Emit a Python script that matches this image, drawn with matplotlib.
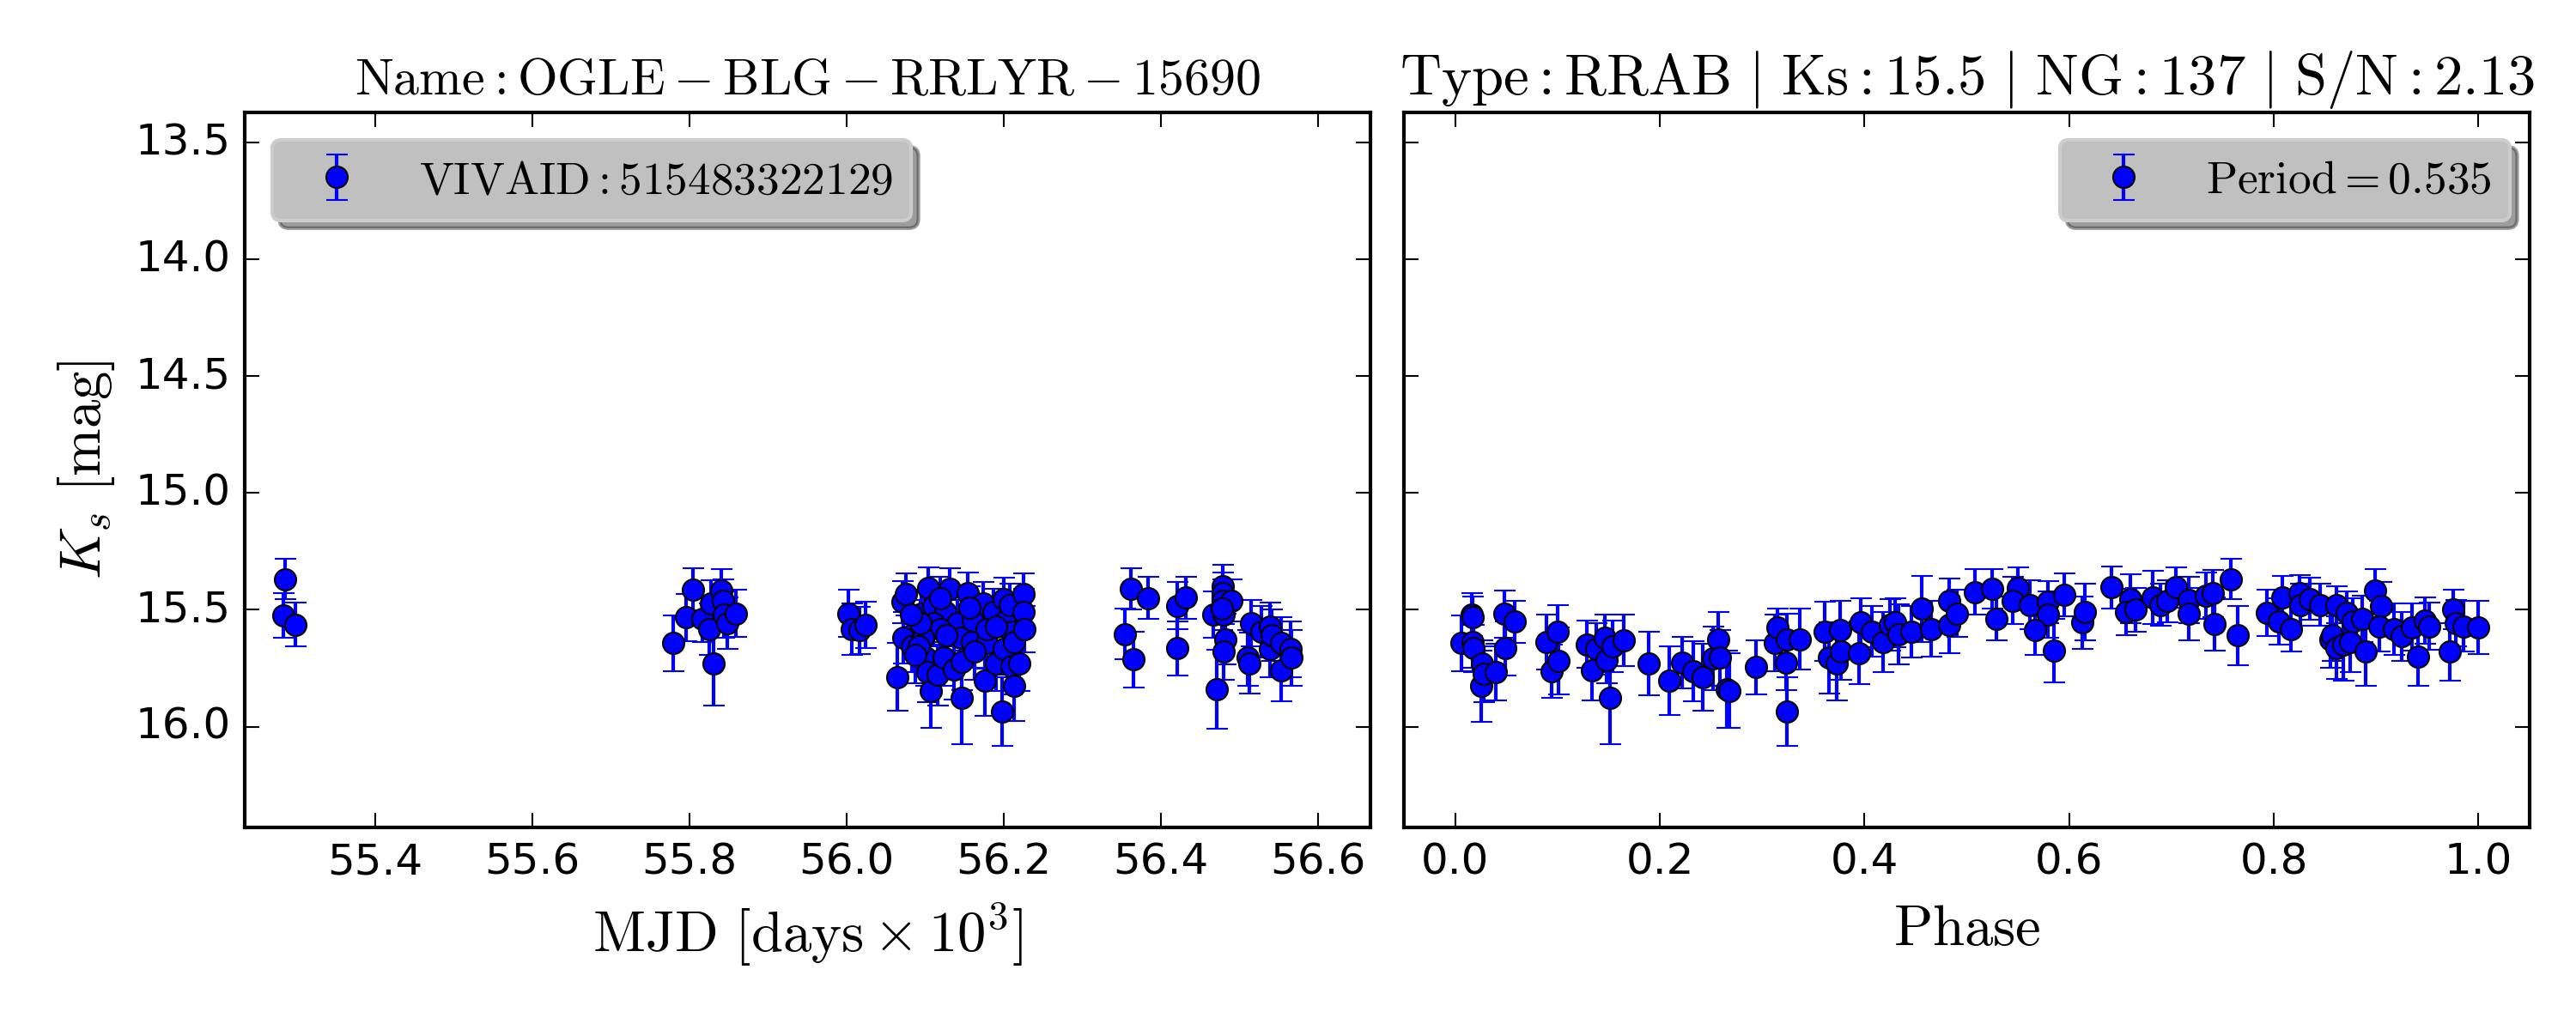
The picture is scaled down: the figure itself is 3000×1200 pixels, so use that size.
import matplotlib
matplotlib.use('Agg')
import matplotlib.pyplot as plt

# light curve, observed (MJD in units of 10^3 days)
mjd = [55.2856, 55.283, 55.2987,
       55.780, 55.796, 55.805, 55.817, 55.825, 55.831, 55.828, 55.841, 55.843, 55.844, 55.848, 55.859,
       56.003, 56.007, 56.017, 56.024,
       56.065, 56.072, 56.071, 56.076, 56.083, 56.095, 56.104, 56.105, 56.101, 56.103,
       56.107, 56.116, 56.111, 56.124, 56.126, 56.132, 56.137, 56.141, 56.147, 56.147,
       56.146, 56.155, 56.160, 56.161, 56.174, 56.176, 56.179, 56.187, 56.191, 56.200,
       56.200, 56.201, 56.198, 56.208, 56.210, 56.210, 56.214, 56.214, 56.220, 56.225,
       56.225, 56.227, 56.111, 56.119, 56.127, 56.098, 56.092, 56.088, 56.163, 56.178,
       56.190, 56.119, 56.094, 56.082, 56.157,
       56.362, 56.384, 56.355, 56.366, 56.421, 56.432, 56.421,
       56.467, 56.479, 56.479, 56.479, 56.490, 56.480, 56.482, 56.480, 56.472, 56.478,
       56.515, 56.511, 56.513, 56.528, 56.539, 56.539, 56.541, 56.553, 56.553, 56.566, 56.567]
mag_obs = [15.368, 15.523, 15.564,
           15.643, 15.533, 15.413, 15.539, 15.582, 15.729, 15.472, 15.417, 15.460, 15.521, 15.557, 15.515,
           15.515, 15.582, 15.588, 15.564,
           15.788, 15.621, 15.466, 15.433, 15.656, 15.515, 15.408, 15.582, 15.705, 15.766,
           15.846, 15.778, 15.484, 15.705, 15.509, 15.410, 15.754, 15.558, 15.723, 15.876,
           15.619, 15.429, 15.637, 15.545, 15.472, 15.803, 15.643, 15.509, 15.729, 15.668,
           15.453, 15.551, 15.935, 15.478, 15.594, 15.741, 15.827, 15.637, 15.729, 15.433,
           15.509, 15.582, 15.558, 15.582, 15.607, 15.619, 15.656, 15.693, 15.680, 15.582,
           15.570, 15.450, 15.558, 15.521, 15.490,
           15.410, 15.450, 15.603, 15.713, 15.482, 15.447, 15.665,
           15.521, 15.398, 15.429, 15.460, 15.460, 15.521, 15.625, 15.680, 15.840, 15.496,
           15.558, 15.705, 15.729, 15.594, 15.570, 15.668, 15.607, 15.643, 15.760, 15.668, 15.705]
err_obs = [0.086, 0.095, 0.094,
           0.12, 0.10, 0.09, 0.10, 0.11, 0.18, 0.10, 0.09, 0.09, 0.10, 0.11, 0.10,
           0.10, 0.11, 0.10, 0.10,
           0.145, 0.11, 0.09, 0.09, 0.11, 0.10, 0.09, 0.10, 0.12, 0.13,
           0.16, 0.13, 0.09, 0.12, 0.10, 0.09, 0.13, 0.10, 0.12, 0.20,
           0.11, 0.09, 0.11, 0.10, 0.09, 0.15, 0.11, 0.10, 0.12, 0.11,
           0.09, 0.10, 0.148, 0.09, 0.10, 0.12, 0.15, 0.11, 0.12, 0.09,
           0.10, 0.10, 0.10, 0.10, 0.10, 0.11, 0.11, 0.12, 0.12, 0.10,
           0.10, 0.09, 0.10, 0.10, 0.09,
           0.09, 0.09, 0.11, 0.12, 0.10, 0.09, 0.115,
           0.10, 0.09, 0.09, 0.09, 0.09, 0.10, 0.11, 0.12, 0.168, 0.09,
           0.10, 0.12, 0.13, 0.11, 0.10, 0.12, 0.11, 0.11, 0.13, 0.12, 0.12]

# folded light curve
phase = [0.006, 0.016, 0.017, 0.017, 0.018, 0.025, 0.026, 0.028, 0.040, 0.048,
         0.049, 0.058, 0.089, 0.094, 0.100, 0.101, 0.129, 0.134, 0.138, 0.146,
         0.148, 0.151, 0.154, 0.165, 0.189, 0.209, 0.222, 0.233, 0.242, 0.252,
         0.257, 0.259, 0.265, 0.268, 0.294, 0.312, 0.315, 0.323, 0.324, 0.324,
         0.337, 0.361, 0.365, 0.373, 0.376, 0.377, 0.395, 0.396, 0.407, 0.418,
         0.425, 0.430, 0.433, 0.446, 0.456, 0.465, 0.483, 0.483, 0.490, 0.508,
         0.525, 0.529, 0.5495, 0.545, 0.562, 0.5796, 0.5796, 0.567, 0.585, 0.5955,
         0.6125, 0.615, 0.641, 0.660, 0.656, 0.665, 0.682, 0.689, 0.696, 0.7045,
         0.7165, 0.7165, 0.734, 0.740, 0.742, 0.758, 0.7646, 0.793, 0.808, 0.805,
         0.8166, 0.8255, 0.826, 0.835, 0.845, 0.861, 0.871, 0.877, 0.855, 0.857,
         0.861, 0.868, 0.875, 0.886, 0.890, 0.899, 0.905, 0.903, 0.9175, 0.925,
         0.935, 0.941, 0.948, 0.952, 0.975, 0.972, 0.978, 0.985, 1.000]
mag_fold = [15.643, 15.520, 15.533, 15.637, 15.665, 15.827, 15.730, 15.775, 15.766, 15.518,
            15.665, 15.550, 15.637, 15.763, 15.594, 15.720, 15.647, 15.760, 15.668, 15.619,
            15.714, 15.876, 15.656, 15.631, 15.729, 15.803, 15.725, 15.763, 15.788, 15.707,
            15.625, 15.705, 15.840, 15.846, 15.745, 15.641, 15.576, 15.725, 15.625, 15.935,
            15.625, 15.592, 15.705, 15.729, 15.585, 15.678, 15.684, 15.555, 15.592, 15.637,
            15.564, 15.555, 15.604, 15.594, 15.496, 15.582, 15.460, 15.564, 15.515, 15.423,
            15.410, 15.537, 15.407, 15.460, 15.478, 15.466, 15.521, 15.586, 15.674, 15.435,
            15.555, 15.509, 15.404, 15.453, 15.509, 15.500, 15.447, 15.478, 15.463, 15.404,
            15.457, 15.518, 15.440, 15.430, 15.560, 15.368, 15.610, 15.512, 15.447, 15.549,
            15.582, 15.430, 15.478, 15.453, 15.478, 15.478, 15.512, 15.551, 15.625, 15.609,
            15.662, 15.650, 15.637, 15.539, 15.678, 15.417, 15.482, 15.570, 15.582, 15.613,
            15.574, 15.702, 15.545, 15.570, 15.499, 15.680, 15.558, 15.570, 15.574]
err_fold = [0.119, 0.092, 0.090, 0.110, 0.100, 0.153, 0.100, 0.120, 0.122, 0.100,
            0.116, 0.090, 0.118, 0.113, 0.113, 0.143, 0.100, 0.129, 0.110, 0.098,
            0.100, 0.200, 0.110, 0.110, 0.137, 0.147, 0.110, 0.130, 0.143, 0.135,
            0.114, 0.120, 0.167, 0.160, 0.116, 0.120, 0.082, 0.118, 0.110, 0.147,
            0.132, 0.126, 0.153, 0.160, 0.125, 0.120, 0.135, 0.104, 0.110, 0.129,
            0.110, 0.105, 0.128, 0.110, 0.141, 0.120, 0.094, 0.122, 0.100, 0.098,
            0.086, 0.094, 0.088, 0.100, 0.104, 0.090, 0.100, 0.107, 0.135, 0.092,
            0.113, 0.120, 0.089, 0.104, 0.100, 0.092, 0.114, 0.090, 0.090, 0.086,
            0.100, 0.113, 0.100, 0.100, 0.114, 0.086, 0.127, 0.100, 0.092, 0.100,
            0.098, 0.080, 0.090, 0.090, 0.090, 0.080, 0.090, 0.100, 0.122, 0.110,
            0.135, 0.153, 0.128, 0.100, 0.146, 0.092, 0.100, 0.110, 0.110, 0.104,
            0.100, 0.125, 0.100, 0.100, 0.085, 0.122, 0.100, 0.107, 0.114]

mag_ticks = [13.5, 14.0, 14.5, 15.0, 15.5, 16.0]

plt.style.use('classic')
plt.rcParams['figure.facecolor'] = 'white'
plt.rcParams['savefig.facecolor'] = 'white'
plt.rcParams['mathtext.fontset'] = 'cm'

fig, (ax1, ax2) = plt.subplots(1, 2, figsize=(10, 4), dpi=300, sharey=True)
fig.subplots_adjust(left=0.095, right=0.982, bottom=0.197, top=0.891, wspace=0.03)

leg_kw = dict(numpoints=1, fancybox=True, shadow=True, fontsize=12.8, framealpha=1,
              facecolor='silver', edgecolor='0.8', borderaxespad=0.6)

ax1.errorbar(mjd, mag_obs, yerr=err_obs, fmt='o', color='b', ecolor='b', mec='k',
             ms=6, capsize=3, label=r'$\mathrm{VIVAID: 515483322129}$')
ax1.set_xlim(55.234, 56.667)
ax1.set_ylim(16.43, 13.37)
ax1.set_yticks(mag_ticks)
ax1.set_title(r'$\mathrm{Name: OGLE-BLG-RRLYR-15690}$', fontsize=14.4)
ax1.set_xlabel(r'$\mathrm{MJD\ [days \times 10^3]}$', fontsize=16)
ax1.set_ylabel(r'$K_s\ [\mathrm{mag}]$', fontsize=16)
ax1.legend(loc='upper left', **leg_kw)

ax2.errorbar(phase, mag_fold, yerr=err_fold, fmt='o', color='b', ecolor='b', mec='k',
             ms=6, capsize=3, label=r'$\mathrm{Period=0.535}$')
ax2.set_xlim(-0.05, 1.05)
ax2.set_title(r'$\mathrm{Type: RRAB\ |\ Ks: 15.5\ |\ NG: 137\ |\ S/N: 2.13}$', fontsize=16)
ax2.set_xlabel(r'$\mathrm{Phase}$', fontsize=16)
ax2.legend(loc='upper right', bbox_to_anchor=(1.007, 1.0), **leg_kw)

fig.savefig('out.png', dpi=300)
